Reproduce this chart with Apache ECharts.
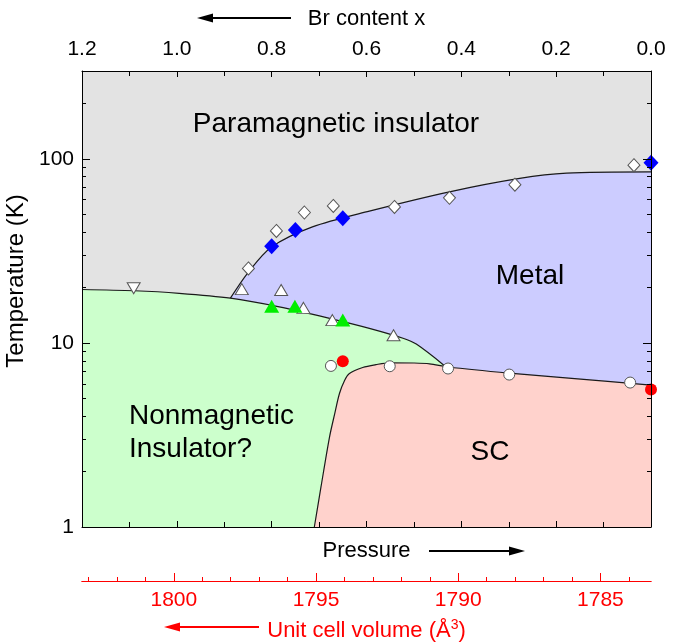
<!DOCTYPE html>
<html>
<head>
<meta charset="utf-8">
<script src="https://cdn.jsdelivr.net/npm/echarts@6/dist/echarts.min.js"></script>
<style>
html,body{margin:0;padding:0;background:#fff}
#main{width:684px;height:643px}
</style>
</head>
<body>
<div id="main"></div>
<script>
// Br content x (top axis) vs temperature (K), log scale
var diamondOpen = [[0.849,25.4],[0.790,40.6],[0.731,51.1],[0.670,55.5],[0.541,54.8],[0.425,61.4],[0.287,72.4],[0.036,92.4]];
var diamondBlue = [[0.800,33.5],[0.750,41.0],[0.650,47.6],[0.0,95.1]];
var triUpOpen = [[0.863,19.6],[0.780,19.4],[0.733,15.5],[0.672,13.3],[0.543,11.0]];
var triDownOpen = [[1.091,19.8]];
var triGreen = [[0.800,15.8],[0.751,15.8],[0.650,13.3]];
var circleOpen = [[0.675,7.5],[0.551,7.47],[0.428,7.26],[0.299,6.73],[0.044,6.09]];
var circleRed = [[0.650,7.95],[0.0,5.58]];

// phase boundaries
var metalTop = [[0.887,17.5],[0.851,23.9],[0.801,33.1],[0.714,42.7],[0.594,52.0],[0.425,66.2],[0.277,78.3],[0.178,83.6],[0.0,85.0]];
var insulTop = [[1.2,19.5],[1.09,19.2],[0.995,18.6],[0.887,17.5],[0.784,15.7],[0.678,13.6],[0.594,12.0],[0.523,10.6],[0.495,9.85],[0.435,7.5]];
var scTop = [[0.710,1.0],[0.696,1.65],[0.678,3.08],[0.667,4.13],[0.657,5.31],[0.646,6.27],[0.636,6.82],[0.608,7.35],[0.580,7.62],[0.551,7.8],[0.500,7.78],[0.467,7.7],[0.428,7.4],[0.299,6.85],[0.161,6.4],[0.0,5.9]];

// tick values
var tempMajor = [1, 10, 100];
var tempMinor = [2,3,4,5,6,7,8,9,20,30,40,50,60,70,80,90,200];
var volMajor = [1785, 1790, 1795, 1800];
var volMinor = [1784,1786,1787,1788,1789,1791,1792,1793,1794,1796,1797,1798,1799,1801,1802,1803];

var FONT = "'Liberation Sans', Arial, sans-serif";
var RED = '#ff0000';

var myChart = echarts.init(document.getElementById('main'));

function brAxis(pos, showLabel) {
	return {
		type: 'value',
		position: pos,
		z: 10,
		min: 0,
		max: 1.2,
		interval: 0.2,
		inverse: true,
		axisLine: { show: true, onZero: false, lineStyle: { color: '#000', width: 1 } },
		axisTick: { show: true, inside: true, length: 6, lineStyle: { color: '#000' } },
		minorTick: { show: true, splitNumber: 2, length: 5, lineStyle: { color: '#000' } },
		splitLine: { show: false },
		axisLabel: {
			show: showLabel,
			margin: 11,
			fontSize: 21,
			fontFamily: FONT,
			color: '#000',
			formatter: function (v) { return v.toFixed(1); }
		}
	};
}

function tempAxis(pos, ticks, len, showLabel, showLine) {
	return {
		type: 'log',
		logBase: 10,
		position: pos,
		z: 10,
		min: 1,
		max: 300,
		axisLine: { show: showLine, onZero: false, lineStyle: { color: '#000', width: 1 } },
		axisTick: { show: true, inside: true, length: len, customValues: ticks, lineStyle: { color: '#000' } },
		minorTick: { show: false },
		splitLine: { show: false },
		axisLabel: {
			show: showLabel,
			customValues: ticks,
			margin: 8,
			fontSize: 21,
			fontFamily: FONT,
			color: '#000'
		}
	};
}

function volAxis(ticks, len, showLabel) {
	return {
		type: 'value',
		position: 'bottom',
		offset: 54,
		z: 10,
		min: 1783.22,
		max: 1803.23,
		inverse: true,
		axisLine: { show: true, onZero: false, lineStyle: { color: RED, width: 1 } },
		axisTick: { show: true, inside: true, length: len, customValues: ticks, lineStyle: { color: RED } },
		splitLine: { show: false },
		axisLabel: {
			show: showLabel,
			customValues: ticks,
			margin: 9,
			fontSize: 21,
			fontFamily: FONT,
			color: RED,
			formatter: function (v) { return String(v); }
		}
	};
}

var xBottom = brAxis('bottom', false);
xBottom.name = 'Pressure';
xBottom.nameLocation = 'middle';
xBottom.nameGap = 13;
xBottom.nameTextStyle = { fontSize: 22, fontFamily: FONT, color: '#000' };

var xTop = brAxis('top', true);
xTop.name = 'Br content x';
xTop.nameLocation = 'middle';
xTop.nameGap = 41;
xTop.nameTextStyle = { fontSize: 22, fontFamily: FONT, color: '#000' };

var xVol = volAxis(volMajor, 8, true);
xVol.name = 'Unit cell volume (Å{sup|3})';
xVol.nameLocation = 'middle';
xVol.nameGap = 37;
xVol.nameTextStyle = {
	fontSize: 22, fontFamily: FONT, color: RED,
	rich: { sup: { fontSize: 14, fontFamily: FONT, color: RED, verticalAlign: 'top', padding: [0, 0, 12, 0] } }
};

var yLeft = tempAxis('left', tempMajor, 8, true, true);
yLeft.name = 'Temperature (K)';
yLeft.nameLocation = 'middle';
yLeft.nameGap = 45;
yLeft.nameTextStyle = { fontSize: 24, fontFamily: FONT, color: '#000', padding: [0, 0, 0, 36] };

function markerSeries(data, symbol, size, fill, border, rotate) {
	return {
		type: 'scatter',
		data: data,
		symbol: symbol,
		symbolSize: size,
		symbolRotate: rotate || 0,
		z: 5,
		itemStyle: { color: fill, borderColor: border, borderWidth: border ? 1 : 0, opacity: 1 }
	};
}

function phaseArea(data, fill) {
	return {
		type: 'line',
		data: data,
		smooth: 0.3,
		showSymbol: false,
		symbol: 'none',
		z: 1,
		lineStyle: { color: '#1a1a1a', width: 1.2 },
		areaStyle: { color: fill, opacity: 1, origin: 'start' }
	};
}

function arrow(x1, x2, y, color) {
	var dir = x2 > x1 ? 1 : -1;
	return {
		type: 'group',
		children: [
			{ type: 'line', shape: { x1: x1, y1: y, x2: x2 - dir * 10, y2: y }, style: { stroke: color, lineWidth: 2 } },
			{ type: 'polygon', shape: { points: [[x2, y], [x2 - dir * 16, y - 4.5], [x2 - dir * 16, y + 4.5]] }, style: { fill: color } }
		]
	};
}

function label(text, x, y, align) {
	return {
		type: 'text',
		x: x,
		y: y,
		z: 8,
		style: { text: text, font: '28px ' + FONT, fill: '#000', textAlign: align || 'center', textVerticalAlign: 'middle', lineHeight: 33 }
	};
}

myChart.setOption({
	animation: false,
	grid: {
		left: 82, right: 33, top: 71, bottom: 116,
		outerBoundsMode: 'none', containLabel: false,
		show: true, backgroundColor: '#e3e3e3', borderWidth: 0
	},
	xAxis: [xBottom, xTop, xVol, volAxis(volMinor, 4, false)],
	yAxis: [
		yLeft,
		tempAxis('left', tempMinor, 4, false, false),
		tempAxis('right', tempMajor, 8, false, true),
		tempAxis('right', tempMinor, 4, false, false)
	],
	series: [
		phaseArea(metalTop, '#ccccff'),
		phaseArea(insulTop, '#ccffcc'),
		phaseArea(scTop, '#ffd2cc'),
		markerSeries(diamondOpen, 'diamond', [12, 13], '#fff', '#555'),
		markerSeries(diamondBlue, 'diamond', [15, 16], '#0000ff', null),
		markerSeries(triUpOpen, 'triangle', [13, 11], '#fff', '#555'),
		markerSeries(triDownOpen, 'triangle', [13, 11], '#fff', '#555', 180),
		markerSeries(triGreen, 'triangle', [15, 13], '#00ee00', null),
		markerSeries(circleOpen, 'circle', 11, '#fff', '#555'),
		markerSeries(circleRed, 'circle', 12, '#ff0000', null)
	],
	graphic: [
		arrow(291, 197, 18, '#000'),
		arrow(429, 525, 551, '#000'),
		arrow(259, 164, 627, RED),
		label('Paramagnetic insulator', 336, 124),
		label('Metal', 530, 276),
		label('Nonmagnetic\nInsulator?', 129, 433, 'left'),
		label('SC', 490, 452)
	]
});
</script>
</body>
</html>
